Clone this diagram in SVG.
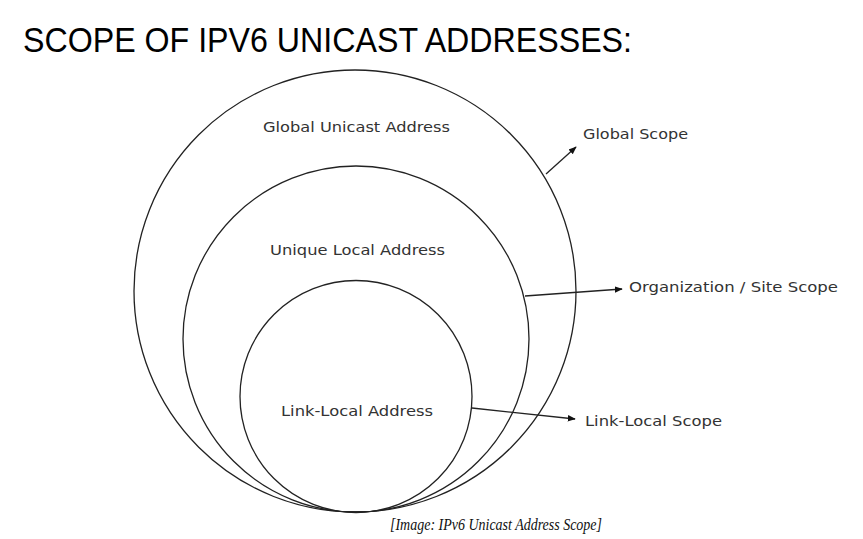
<svg xmlns="http://www.w3.org/2000/svg" width="863" height="539" viewBox="0 0 863 539">
<defs>
<marker id="ah" viewBox="0 0 10 10" refX="9" refY="5" markerWidth="8" markerHeight="8" markerUnits="userSpaceOnUse" orient="auto">
<path d="M0,1 L10,5 L0,9 Z" fill="#111"/>
</marker>
</defs>
<style>
.c{fill:none;stroke:#222;stroke-width:1.3}
.l{font-family:"DejaVu Sans",Verdana,sans-serif;font-size:13.5px;fill:#333}
.a{fill:none;stroke:#222;stroke-width:1.3;marker-end:url(#ah)}
</style>
<rect width="863" height="539" fill="#fff"/>
<text x="23" y="52" font-family="Liberation Sans, Arial, sans-serif" font-size="35" fill="#000" textLength="609" lengthAdjust="spacingAndGlyphs">SCOPE OF IPV6 UNICAST ADDRESSES:</text>
<g id="global">
<circle class="c" cx="355" cy="291" r="221"/>
<text class="l" x="263" y="132" textLength="187" lengthAdjust="spacingAndGlyphs">Global Unicast Address</text>
</g>
<g id="unique">
<circle class="c" cx="356" cy="339" r="173"/>
<text class="l" x="270" y="255" textLength="175" lengthAdjust="spacingAndGlyphs">Unique Local Address</text>
</g>
<g id="linklocal">
<circle class="c" cx="356" cy="396.5" r="116"/>
<text class="l" x="281" y="416" textLength="152" lengthAdjust="spacingAndGlyphs">Link-Local Address</text>
</g>
<g id="globalscope">
<text class="l" x="583" y="139" textLength="105" lengthAdjust="spacingAndGlyphs">Global Scope</text>
</g>
<g id="orgscope">
<text class="l" x="629" y="292" textLength="209" lengthAdjust="spacingAndGlyphs">Organization / Site Scope</text>
</g>
<g id="linkscope">
<text class="l" x="585" y="426" textLength="137" lengthAdjust="spacingAndGlyphs">Link-Local Scope</text>
</g>
<g id="connectors">
<line class="a" x1="546" y1="174" x2="576" y2="147"/>
<line class="a" x1="525" y1="296" x2="622" y2="289"/>
<line class="a" x1="472" y1="408" x2="575" y2="419"/>
</g>
<text x="390" y="530" font-family="Liberation Serif, Times New Roman, serif" font-style="italic" font-size="16" fill="#111" textLength="212" lengthAdjust="spacingAndGlyphs">[Image: IPv6 Unicast Address Scope]</text>
</svg>
